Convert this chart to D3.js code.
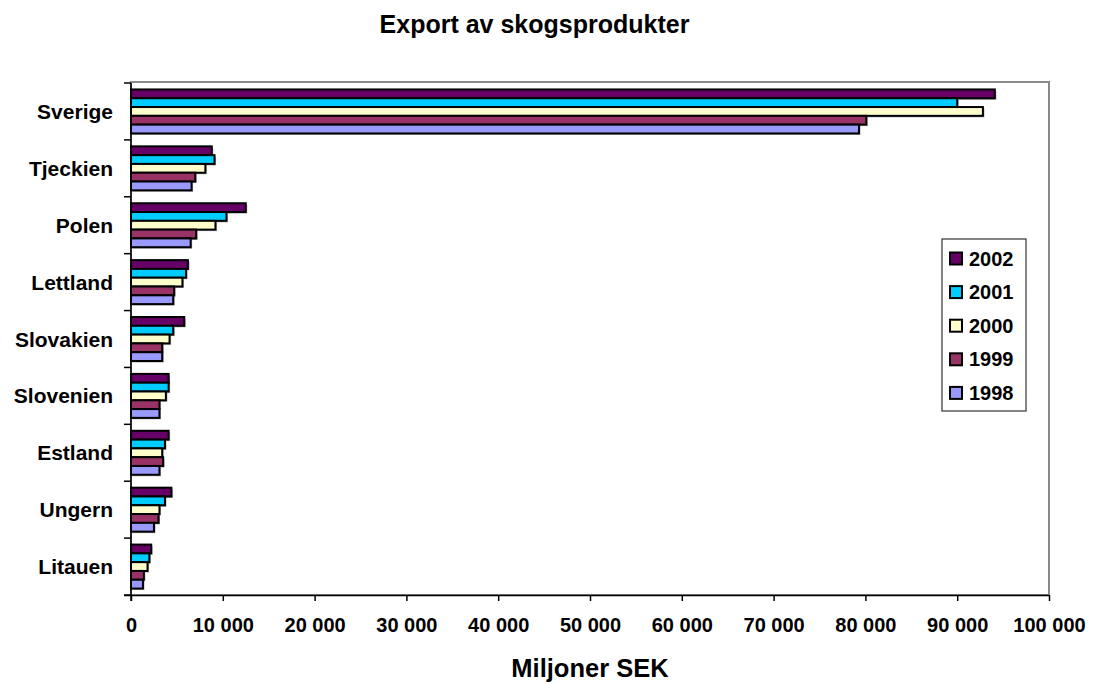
<!DOCTYPE html>
<html>
<head>
<meta charset="utf-8">
<script src="https://cdn.jsdelivr.net/npm/d3@7"></script>
<style>
  body { margin: 0; background: #fff; }
  svg { display: block; font-family: Arial, "Liberation Sans", sans-serif; font-weight: bold; }
</style>
</head>
<body>
<svg id="chart" width="1100" height="684"></svg>
<script>
const categories = ["Sverige", "Tjeckien", "Polen", "Lettland", "Slovakien", "Slovenien", "Estland", "Ungern", "Litauen"];
const years = ["2002", "2001", "2000", "1999", "1998"];
const colors = ["#660066", "#00CCFF", "#FFFFCC", "#993366", "#9999FF"];
const values2002 = [94100, 8800, 12500, 6200, 5800, 4100, 4100, 4400, 2200];
const values2001 = [90000, 9100, 10400, 6000, 4600, 4100, 3700, 3700, 2000];
const values2000 = [92800, 8100, 9200, 5600, 4200, 3800, 3400, 3100, 1800];
const values1999 = [80100, 7000, 7100, 4700, 3400, 3100, 3500, 3000, 1400];
const values1998 = [79300, 6600, 6500, 4600, 3400, 3100, 3100, 2500, 1300];
const xTicks = [0, 10000, 20000, 30000, 40000, 50000, 60000, 70000, 80000, 90000, 100000];
const title = "Export av skogsprodukter";
const xTitle = "Miljoner SEK";

const series = [values2002, values2001, values2000, values1999, values1998];

const svg = d3.select("#chart");
const pLeft = 131, pRight = 1049, pTop = 83, pBottom = 595;

const x = d3.scaleLinear().domain([0, 100000]).range([pLeft, pRight]);
const y = d3.scaleBand().domain(categories).range([pTop, pBottom]).paddingInner(0.227).paddingOuter(0.1135);
const ySub = d3.scaleBand().domain(years).range([0, y.bandwidth()]);

// plot frame (gray top/right)
svg.append("rect").attr("x", pLeft).attr("y", pTop - 1).attr("width", pRight - pLeft).attr("height", pBottom - pTop + 1)
  .attr("fill", "none").attr("stroke", "#8a8a8a").attr("stroke-width", 2);

// bars
const groups = svg.append("g").selectAll("g").data(categories).join("g")
  .attr("transform", d => `translate(0,${y(d)})`);

years.forEach((yr, si) => {
  groups.append("rect")
    .attr("x", x(0) + 1.5)
    .attr("y", ySub(yr) + 1.5)
    .attr("width", (d, i) => x(series[si][i]) - x(0))
    .attr("height", ySub.bandwidth())
    .attr("fill", "#a8a8a8");
});
years.forEach((yr, si) => {
  groups.append("rect")
    .attr("x", x(0))
    .attr("y", ySub(yr))
    .attr("width", (d, i) => x(series[si][i]) - x(0))
    .attr("height", ySub.bandwidth())
    .attr("fill", colors[si])
    .attr("stroke", "#000")
    .attr("stroke-width", 2);
});

// y axis line and ticks at band boundaries
svg.append("line").attr("x1", pLeft).attr("x2", pLeft).attr("y1", pTop).attr("y2", pBottom + 6)
  .attr("stroke", "#000").attr("stroke-width", 1.5);
const bounds = d3.range(categories.length + 1).map(i => pTop + i * y.step());
svg.append("g").selectAll("line").data(bounds).join("line")
  .attr("x1", pLeft - 7).attr("x2", pLeft).attr("y1", d => d).attr("y2", d => d)
  .attr("stroke", "#000").attr("stroke-width", 1.5);

// category labels
svg.append("g").selectAll("text").data(categories).join("text")
  .attr("x", 113).attr("y", d => y(d) + y.bandwidth() / 2 + 7.5)
  .attr("text-anchor", "end").attr("font-size", 21).attr("fill", "#000")
  .text(d => d);

// x axis
const xAxis = d3.axisBottom(x).tickValues(xTicks).tickSize(6).tickPadding(10)
  .tickFormat(d => d3.format(",")(d).replace(/,/g, " "));
const gx = svg.append("g").attr("transform", `translate(0,${pBottom})`).call(xAxis);
gx.select(".domain").attr("d", `M${pLeft - 7},0.5H${pRight}`).attr("stroke", "#000").attr("stroke-width", 1.5);
gx.selectAll(".tick line").attr("stroke", "#000").attr("stroke-width", 1.5);
gx.selectAll(".tick text").attr("font-size", 20).attr("font-weight", "bold").attr("fill", "#000")
  .attr("font-family", "Arial, 'Liberation Sans', sans-serif").attr("dy", "1.05em");

// titles
svg.append("text").attr("x", 534.5).attr("y", 33).attr("text-anchor", "middle")
  .attr("font-size", 25).text(title);
svg.append("text").attr("x", 590).attr("y", 677).attr("text-anchor", "middle")
  .attr("font-size", 25.5).text(xTitle);

// legend
const lg = svg.append("g");
lg.append("rect").attr("x", 942).attr("y", 239).attr("width", 84).attr("height", 172)
  .attr("fill", "#fff").attr("stroke", "#333").attr("stroke-width", 1.2);
years.forEach((yr, i) => {
  const cy = 258.5 + i * 33.6;
  lg.append("rect").attr("x", 950).attr("y", cy - 6).attr("width", 12).attr("height", 12)
    .attr("fill", colors[i]).attr("stroke", "#000").attr("stroke-width", 2);
  lg.append("text").attr("x", 969).attr("y", cy + 7).attr("font-size", 20).text(yr);
});
</script>
</body>
</html>
